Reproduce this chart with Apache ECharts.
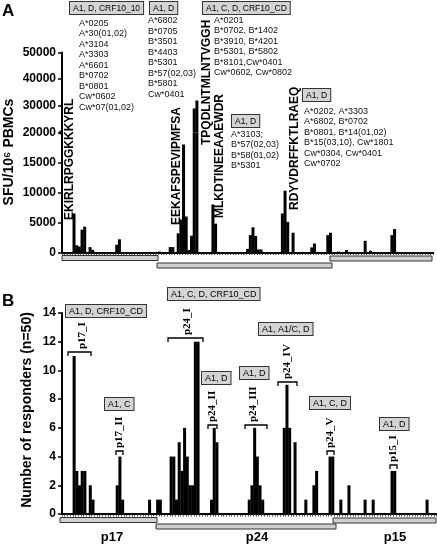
<!DOCTYPE html>
<html><head><meta charset="utf-8">
<script src="https://cdn.jsdelivr.net/npm/echarts@6/dist/echarts.min.js"></script>
<style>html,body{margin:0;padding:0;background:#fff}#c{width:437px;height:546px}</style>
</head><body><div id="c"></div>
<script>
// ---------- DATA ----------
const N_PEPTIDES = 139;
const peptideIds = [];
for (let i = 0; i < N_PEPTIDES; i++) peptideIds.push('P' + (i + 1));

// Panel A: SFU/10^6 PBMCs, [peptide index, value]
const sfuPeaks = [
  [4,6500],[5,1200],[6,1000],[7,3800],[8,4300],[10,900],[11,450],[20,1300],[21,2200],
  [32,100],[35,100],[36,150],[40,900],[41,900],[43,3200],[44,5500],[45,18000],[46,6000],
  [47,400],[48,2800],[49,29000],[50,32000],[56,8000],[57,4800],[69,600],[70,2900],
  [71,4200],[72,2750],[73,500],[74,500],[82,6500],[83,10300],[84,5100],[86,3300],
  [90,100],[93,850],[94,1500],[99,2900],[100,3300],[103,150],[106,400],[113,1950],
  [115,300],[123,2900],[124,3900],[136,100]
];
// Panel B: number of responders (n=50)
const responderPeaks = [
  [4,11],[5,3],[6,2],[7,3],[8,3],[10,2],[11,1],[20,2],[21,4],[22,1],[32,1],[35,1],[36,1],
  [40,4],[41,4],[42,1],[43,5],[44,3],[45,6],[46,4],[47,2],[48,2],[49,12],[50,12],
  [55,1],[56,6],[57,5],[69,1],[70,2],[71,6],[72,4],[73,2],[74,1],[82,6],[83,9],[84,6],
  [86,5],[90,1],[93,2],[94,3],[99,4],[100,4],[103,1],[106,2],[112,1],[115,1],[122,3],[123,3],[135,1]
];
const sfuTicksLow = [0,5000,10000,15000,20000];
const sfuTicksHigh = [30000,40000,50000];
const responderTicks = [0,2,4,6,8,10,12,14];
const proteins = ['p17','p24','p15'];

const epitopeSeqs = ['EKIRLRPGGKKKYRL','EEKAFSPEVIPMFSA','TPQDLNTMLNTVGGH','MLKDTINEEAAEWDR','RDYVDRFFKTLRAEQ'];
const hlaBoxesA = ['A1, D, CRF10_10','A1, D','A1, C, D, CRF10_CD','A1, D','A1, D'];
const hlaListsA = [
  ['A*0205','A*30(01,02)','A*3104','A*3303','A*6601','B*0702','B*0801','Cw*0602','Cw*07(01,02)'],
  ['A*6802','B*0705','B*3501','B*4403','B*5301','B*57(02,03)','B*5801','Cw*0401'],
  ['A*0201','B*0702, B*1402','B*3910, B*4201','B*5301, B*5802','B*8101,Cw*0401','Cw*0602, Cw*0802'],
  ['A*3103;','B*57(02,03)','B*58(01,02)','B*5301'],
  ['A*0202, A*3303','A*6802, B*0702','B*0801, B*14(01,02)','B*15(03,10), Cw*1801','Cw*0304, Cw*0401','Cw*0702']
];
const regionNames = ['p17_I','p17_II','p24_I','p24_II','p24_III','p24_IV','p24_V','p15_I'];
const regionBoxes = ['A1, D, CRF10_CD','A1, C','A1, C, D, CRF10_CD','A1, D','A1, D','A1, A1/C, D','A1, C, D','A1, D'];

// ---------- BUILD ----------
function toSeries(peaks){ const a = new Array(N_PEPTIDES).fill(0); peaks.forEach(p => a[p[0]] = p[1]); return a; }
const sfuValues = toSeries(sfuPeaks);
const responderValues = toSeries(responderPeaks);

const SANS = '"Liberation Sans", Arial, sans-serif';
const SERIF = '"Liberation Serif", "Times New Roman", serif';

// layout (pixels)
const L = {
  left: 62,
  aTop: 52.5, aBreak: 132.5, aBottom: 252.5, aRight: 433.3,
  bTop: 313, bBottom: 514, bRight: 436.5
};

const chart = echarts.init(document.getElementById('c'), null, {renderer:'canvas'});

const xCommon = {
  type:'category', data: peptideIds, boundaryGap:true,
  axisLine:{show:true, onZero:false, lineStyle:{color:'#000', width:2}},
  axisTick:{show:true, interval:0, length:2.5, lineStyle:{color:'#222', width:0.8}},
  axisLabel:{show:false}, splitLine:{show:false}
};
const yLabel = {color:'#000', fontWeight:'bold', fontSize:12, fontFamily:SANS, margin:6, formatter: v => String(v)};
const yCommon = {
  type:'value', splitLine:{show:false},
  axisLine:{show:true, lineStyle:{color:'#000', width:2}},
  axisTick:{show:true, length:4, lineStyle:{color:'#000', width:1.5}},
  axisLabel: yLabel
};

const graphic = [];
function txt(x,y,text,font,opts){ graphic.push(Object.assign({type:'text', x, y, silent:true, style:Object.assign({text, font, fill:'#000'}, opts||{})})); }
function vtxt(x,yBottom,text,font){ graphic.push({type:'text', x, y:yBottom, rotation:Math.PI/2, silent:true, style:{text, font, fill:'#000', align:'left', verticalAlign:'middle'}}); }
function box(x,y,text,fs){ graphic.push({type:'text', x, y, silent:true, style:{text, font: fs+'px '+SANS, fill:'#000', backgroundColor:'#d4d4d4', borderColor:'#333', borderWidth:1, padding:[2,3,1,3], align:'left', verticalAlign:'top'}}); }
function bracket(x1,x2,y){ graphic.push({type:'polyline', silent:true, shape:{points:[[x1,y+4],[x1,y],[x2,y],[x2,y+4]]}, style:{stroke:'#000', lineWidth:1.3, fill:null}}); }
function grayBar(x1,x2,y,h){ graphic.push({type:'rect', silent:true, shape:{x:x1,y:y,width:x2-x1,height:h}, style:{fill:'#d0d0d0', stroke:'#333', lineWidth:1}}); }

// Panel letters & axis titles
txt(2, 3, 'A', 'bold 17px '+SANS, {align:'left', verticalAlign:'top'});
txt(2, 293, 'B', 'bold 17px '+SANS, {align:'left', verticalAlign:'top'});
graphic.push({type:'text', x:9, y:152, rotation:Math.PI/2, silent:true, style:{text:'SFU/10\u2076 PBMCs', font:'bold 14px '+SANS, fill:'#000', align:'center', verticalAlign:'middle'}});
graphic.push({type:'text', x:27, y:410, rotation:Math.PI/2, silent:true, style:{text:'Number of responders (n=50)', font:'bold 14px '+SANS, fill:'#000', align:'center', verticalAlign:'middle'}});

// Panel A epitope labels
const seqPos = [[70,220],[177,225],[207,145],[220,218],[295,210]];
epitopeSeqs.forEach((s,i)=> vtxt(seqPos[i][0], seqPos[i][1], s, 'bold 12px '+SANS));
const boxPosA = [[70,2],[150,2],[203,2],[232,115],[303,89]];
hlaBoxesA.forEach((b,i)=> box(boxPosA[i][0], boxPosA[i][1], b, 8.5));
const listPosA = [[79,18],[148,15.7],[214,14.8],[231,129],[304,105.8]];
hlaListsA.forEach((l,i)=> txt(listPosA[i][0], listPosA[i][1], l.join('\n'), '9px '+SANS, {align:'left', verticalAlign:'top', lineHeight:10.5, fill:'#111'}));

// Panel B region annotations
const brk = [[68,91,352],[116,123,451],[168,203,338],[208,217,425],[245,267,425],[278,297,382],[327,334,451],[390,397,465]];
const lblX = [82,119.5,187,212.5,253,287,330.5,393.5];
const boxPosB = [[66,305],[105,398],[168,288],[202,372],[240,367],[259,323],[310,397],[380,418]];
regionNames.forEach((n,i)=>{
  bracket(brk[i][0], brk[i][1], brk[i][2]);
  vtxt(lblX[i], brk[i][2]-3, n, 'bold 11px '+SERIF);
  box(boxPosB[i][0], boxPosB[i][1], regionBoxes[i], 9);
});

// protein bars under axes
grayBar(62,158,255.5,5); grayBar(157,332,263,5); grayBar(330,432,256,5);
grayBar(60,157,517.5,5); grayBar(156,336,524,5); grayBar(333,436,518,5);
const protX = [112,257,395];
proteins.forEach((p,i)=> txt(protX[i], 537, p, 'bold 13px '+SANS, {align:'center', verticalAlign:'middle'}));

// axis break dot
graphic.push({type:'circle', silent:true, shape:{cx:61, cy:132.5, r:2}, style:{fill:'#000'}});

const barStyle = {barWidth:'112%', clip:true, itemStyle:{color:'#000'}, silent:true};
const option = {
  animation:false,
  backgroundColor:'#fff',
  grid:[
    {left:L.left, top:L.aBreak, width:L.aRight-L.left, height:L.aBottom-L.aBreak},
    {left:L.left, top:L.aTop, width:L.aRight-L.left, height:L.aBreak-L.aTop},
    {left:L.left, top:L.bTop, width:L.bRight-L.left, height:L.bBottom-L.bTop}
  ],
  xAxis:[
    Object.assign({gridIndex:0}, xCommon),
    Object.assign({gridIndex:1}, xCommon, {axisLine:{show:false}, axisTick:{show:false}}),
    Object.assign({gridIndex:2}, xCommon)
  ],
  yAxis:[
    Object.assign({gridIndex:0, min:sfuTicksLow[0], max:sfuTicksLow[sfuTicksLow.length-1], interval:sfuTicksLow[1]-sfuTicksLow[0]}, yCommon),
    Object.assign({gridIndex:1, min:sfuTicksLow[sfuTicksLow.length-1], max:sfuTicksHigh[sfuTicksHigh.length-1], interval:sfuTicksHigh[1]-sfuTicksHigh[0]}, yCommon,
      {axisLabel:Object.assign({}, yLabel, {showMinLabel:false})}),
    Object.assign({gridIndex:2, min:responderTicks[0], max:responderTicks[responderTicks.length-1], interval:responderTicks[1]-responderTicks[0]}, yCommon)
  ],
  series:[
    Object.assign({type:'bar', xAxisIndex:0, yAxisIndex:0, data:sfuValues}, barStyle),
    Object.assign({type:'bar', xAxisIndex:1, yAxisIndex:1, data:sfuValues}, barStyle),
    Object.assign({type:'bar', xAxisIndex:2, yAxisIndex:2, data:responderValues}, barStyle)
  ],
  graphic: graphic
};
chart.setOption(option);
</script></body></html>
